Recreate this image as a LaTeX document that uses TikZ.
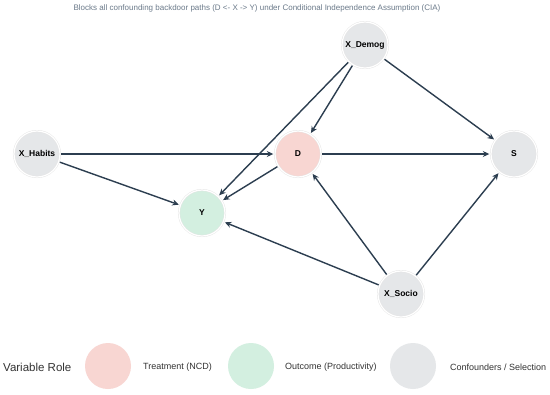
\documentclass[tikz,border=0pt]{standalone}
\usepackage{fontspec}
\setmainfont{Liberation Sans}
\usetikzlibrary{arrows.meta}
\definecolor{edgec}{HTML}{2C3E50}
\definecolor{treat}{HTML}{F8D6D2}
\definecolor{outc}{HTML}{D3EFE0}
\definecolor{conf}{HTML}{E5E7E9}
\definecolor{titlec}{HTML}{6B7A8A}
\definecolor{legc}{HTML}{333333}
\begin{document}
\begin{tikzpicture}[x=1bp,y=-1bp,
  var/.style={circle, minimum size=46bp, inner sep=0pt, draw=black!10, double=white, double distance=1.2bp, line width=0.4bp,
    font=\fontsize{8.5bp}{10bp}\selectfont\bfseries, text=black},
  treatnode/.style={var, fill=treat},
  outnode/.style={var, fill=outc},
  confnode/.style={var, fill=conf},
  edge/.style={draw=edgec, line width=1.4bp, -{Stealth[length=6.5bp,width=6bp]}, shorten >=1.5bp, shorten <=1bp},
  legdot/.style={circle, minimum size=46bp, inner sep=0pt},
  legtext/.style={font=\fontsize{9bp}{10.5bp}\selectfont, text=legc, anchor=west, inner sep=0pt}]
\useasboundingbox (0,0) rectangle (550,394);
\fill[white] (0,0) rectangle (550,394);
\node[font=\fontsize{8bp}{9.5bp}\selectfont, text=titlec] (title) at (257,8.5) {Blocks all confounding backdoor paths (D <- X -> Y) under Conditional Independence Assumption (CIA)};
\node[confnode] (xd) at (365,45) {X\_Demog};
\node[confnode] (xh) at (37,154) {X\_Habits};
\node[treatnode] (d) at (298,154) {D};
\node[outnode] (y) at (202,213) {Y};
\node[confnode] (xs) at (401,294) {X\_Socio};
\node[confnode] (s) at (514,154) {S};
\draw[edge] (xd) -- (d);
\draw[edge] (xd) -- (y);
\draw[edge] (xd) -- (s);
\draw[edge] (xh) -- (d);
\draw[edge] (xh) -- (y);
\draw[edge] (d) -- (s);
\draw[edge] (d) -- (y);
\draw[edge] (xs) -- (d);
\draw[edge] (xs) -- (y);
\draw[edge] (xs) -- (s);
\node[font=\fontsize{11.5bp}{13bp}\selectfont, text=legc, anchor=west, inner sep=0pt] (legtitle) at (3,367) {Variable Role};
\node[legdot, fill=treat] (l1) at (108,366) {};
\node[legtext] (t1) at (143,367) {Treatment (NCD)};
\node[legdot, fill=outc] (l2) at (251,366) {};
\node[legtext] (t2) at (285,367) {Outcome (Productivity)};
\node[legdot, fill=conf] (l3) at (413,366) {};
\node[legtext] (t3) at (450,367) {Confounders / Selection};
\end{tikzpicture}
\end{document}
